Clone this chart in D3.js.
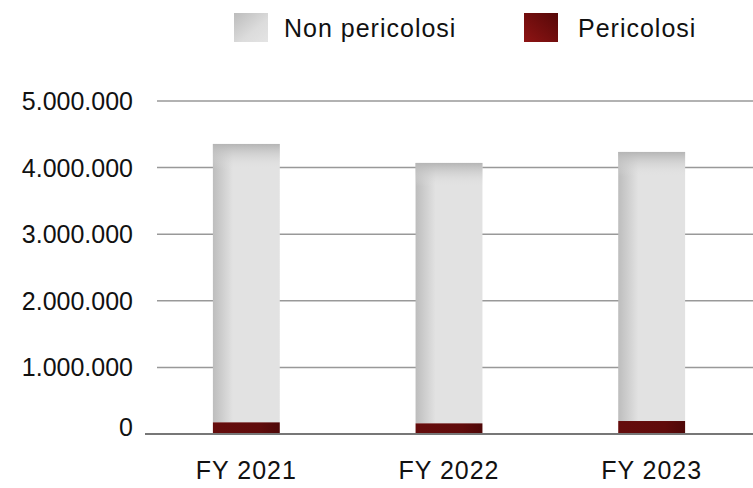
<!DOCTYPE html>
<html>
<head>
<meta charset="utf-8">
<script src="https://cdnjs.cloudflare.com/ajax/libs/d3/7.8.5/d3.min.js"></script>
<style>
  body { margin: 0; background: #fff; }
  text { font-family: "Liberation Sans", Arial, sans-serif; fill: #111; }
</style>
</head>
<body>
<svg id="chart" width="753" height="488"></svg>
<script>
// ---- data ----
var years = ["FY 2021", "FY 2022", "FY 2023"];
var nonPericolosi = [4180000, 3910000, 4040000];
var pericolosi = [175000, 160000, 195000];
var seriesNames = ["Non pericolosi", "Pericolosi"];
var yTicks = [0, 1000000, 2000000, 3000000, 4000000, 5000000];

var svg = d3.select("#chart");
// plot edges (note: "top" is taken by window.top)
var plotLeft = 145, plotRight = 753, plotTop = 101, plotBottom = 434;

var x = d3.scaleBand().domain(years).range([plotLeft, plotRight]).paddingInner(0.67).paddingOuter(0.335);
var y = d3.scaleLinear().domain([0, 5000000]).range([plotBottom, plotTop]);

var fmt = function(v) { return d3.format(",")(v).replace(/,/g, "."); };

// gradients
var defs = svg.append("defs");
var gx = defs.append("linearGradient").attr("id", "gLeft").attr("x1", 0).attr("x2", 1).attr("y1", 0).attr("y2", 0);
gx.append("stop").attr("offset", 0).attr("stop-color", "#bdbdbd");
gx.append("stop").attr("offset", 0.3).attr("stop-color", "#e2e2e2");
gx.append("stop").attr("offset", 1).attr("stop-color", "#e2e2e2");
var gy = defs.append("linearGradient").attr("id", "gTop").attr("x1", 0).attr("x2", 0).attr("y1", 0).attr("y2", 1);
gy.append("stop").attr("offset", 0).attr("stop-color", "#b5b5b5").attr("stop-opacity", 1);
gy.append("stop").attr("offset", 0.09).attr("stop-color", "#e2e2e2").attr("stop-opacity", 0);
gy.append("stop").attr("offset", 1).attr("stop-color", "#e2e2e2").attr("stop-opacity", 0);
var gr = defs.append("linearGradient").attr("id", "gRed").attr("x1", 0).attr("x2", 1).attr("y1", 0).attr("y2", 0);
gr.append("stop").attr("offset", 0).attr("stop-color", "#650c0c");
gr.append("stop").attr("offset", 0.7).attr("stop-color", "#600b0b");
gr.append("stop").attr("offset", 1).attr("stop-color", "#4e0808");
var lg = defs.append("linearGradient").attr("id", "gLegGray").attr("x1", 0).attr("x2", 1).attr("y1", 0).attr("y2", 1);
lg.append("stop").attr("offset", 0).attr("stop-color", "#bcbcbc");
lg.append("stop").attr("offset", 0.6).attr("stop-color", "#dcdcdc");
lg.append("stop").attr("offset", 1).attr("stop-color", "#e4e4e4");
var lr = defs.append("linearGradient").attr("id", "gLegRed").attr("x1", 0).attr("x2", 1).attr("y1", 1).attr("y2", 0);
lr.append("stop").attr("offset", 0).attr("stop-color", "#8e1414");
lr.append("stop").attr("offset", 1).attr("stop-color", "#560808");

// gridlines
svg.selectAll("line.grid").data(yTicks.filter(function(d) { return d > 0; }))
  .enter().append("line").attr("class", "grid")
  .attr("x1", 157).attr("x2", plotRight)
  .attr("y1", function(d) { return y(d); }).attr("y2", function(d) { return y(d); })
  .attr("stroke", "#999").attr("stroke-width", 1.5);

// y labels
svg.selectAll("text.ylab").data(yTicks).enter().append("text").attr("class", "ylab")
  .attr("x", 133).attr("y", function(d) { return d === 0 ? y(d) - 7 : y(d); })
  .attr("dy", "0.36em").attr("text-anchor", "end").attr("font-size", 25)
  .text(function(d) { return fmt(d); });

// bars
var bars = svg.append("g");
years.forEach(function(yr, i) {
  var x0 = x(yr), bw = x.bandwidth();
  var yb = y(pericolosi[i]), yt = y(pericolosi[i] + nonPericolosi[i]);
  bars.append("rect").attr("x", x0).attr("y", yt).attr("width", bw).attr("height", yb - yt).attr("fill", "url(#gLeft)");
  bars.append("rect").attr("x", x0).attr("y", yt).attr("width", bw).attr("height", yb - yt).attr("fill", "url(#gTop)");
  bars.append("rect").attr("x", x0).attr("y", yb).attr("width", bw).attr("height", y(0) - yb).attr("fill", "url(#gRed)");
});

// zero line
svg.append("line").attr("x1", plotLeft).attr("x2", plotRight).attr("y1", y(0)).attr("y2", y(0))
  .attr("stroke", "#777").attr("stroke-width", 2);

// x labels
svg.selectAll("text.xlab").data(years).enter().append("text").attr("class", "xlab")
  .attr("x", function(d) { return x(d) + x.bandwidth() / 2; }).attr("y", 479)
  .attr("text-anchor", "middle").attr("font-size", 25).attr("letter-spacing", 1)
  .text(function(d) { return d; });

// legend
var legX = [234, 524], legTx = [284, 578], legFill = ["url(#gLegGray)", "url(#gLegRed)"];
seriesNames.forEach(function(n, i) {
  svg.append("rect").attr("x", legX[i]).attr("y", 13).attr("width", 34).attr("height", 29).attr("fill", legFill[i]);
  svg.append("text").attr("x", legTx[i]).attr("y", 37).attr("font-size", 25).attr("letter-spacing", 1).text(n);
});
</script>
</body>
</html>
